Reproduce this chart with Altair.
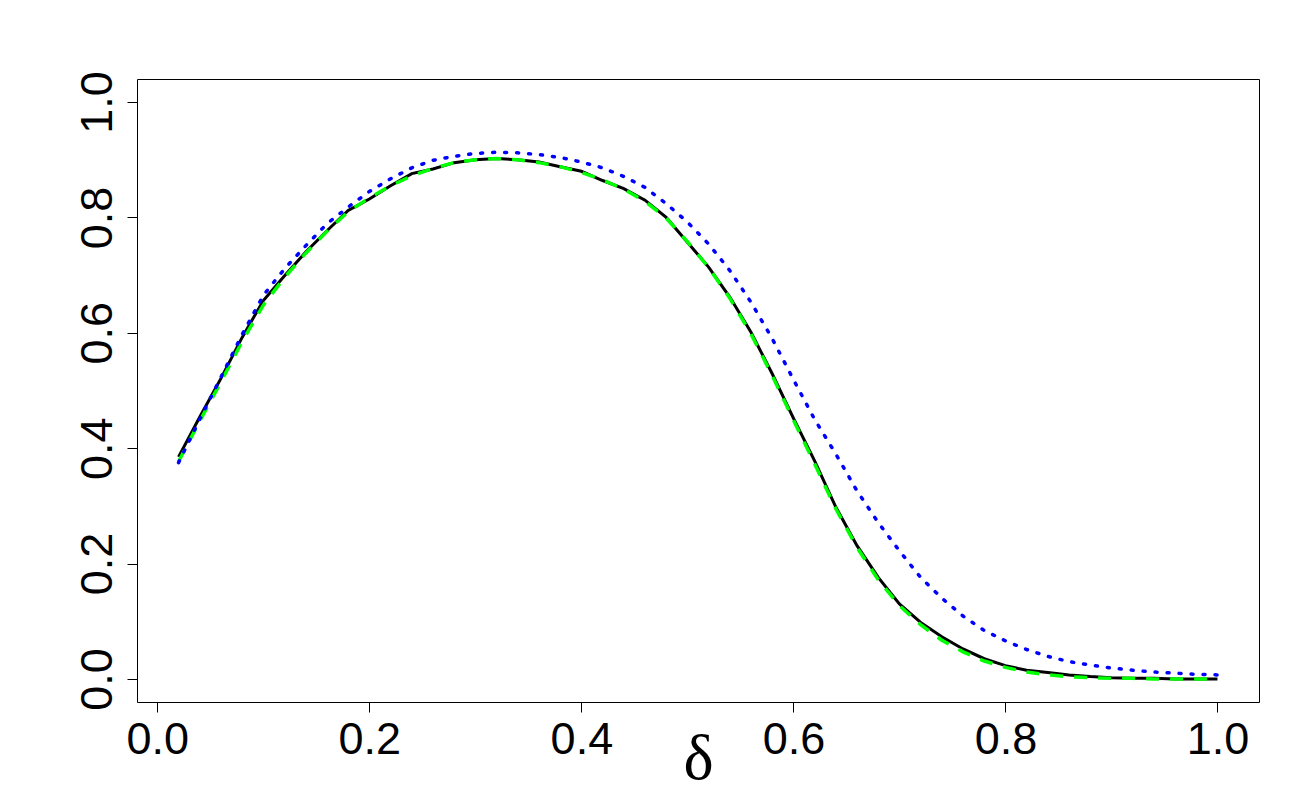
import altair as alt
import pandas as pd

delta = [0.02, 0.04, 0.06, 0.08, 0.10, 0.12, 0.14, 0.16, 0.18, 0.20,
         0.22, 0.24, 0.26, 0.28, 0.30, 0.32, 0.34, 0.36, 0.38, 0.40,
         0.42, 0.44, 0.46, 0.48, 0.50, 0.52, 0.54, 0.56, 0.58, 0.60,
         0.62, 0.64, 0.66, 0.68, 0.70, 0.72, 0.74, 0.76, 0.78, 0.80,
         0.82, 0.84, 0.86, 0.88, 0.90, 0.92, 0.94, 0.96, 0.98, 1.00]

black_vals = [0.385, 0.454, 0.521, 0.592, 0.656, 0.699, 0.740, 0.777, 0.812, 0.832,
              0.855, 0.876, 0.884, 0.895, 0.900, 0.902, 0.900, 0.896, 0.888, 0.880,
              0.864, 0.850, 0.830, 0.800, 0.757, 0.714, 0.662, 0.601, 0.529, 0.452,
              0.378, 0.298, 0.231, 0.176, 0.130, 0.098, 0.073, 0.052, 0.035, 0.023,
              0.015, 0.011, 0.007, 0.004, 0.002, 0.001, 0.001, 0.000, 0.000, 0.000]

green_vals = [0.377, 0.447, 0.515, 0.585, 0.648, 0.696, 0.738, 0.776, 0.810, 0.834,
              0.855, 0.872, 0.885, 0.895, 0.900, 0.902, 0.900, 0.895, 0.888, 0.878,
              0.865, 0.849, 0.828, 0.799, 0.758, 0.713, 0.660, 0.598, 0.526, 0.449,
              0.373, 0.295, 0.228, 0.172, 0.127, 0.094, 0.067, 0.047, 0.031, 0.020,
              0.012, 0.007, 0.004, 0.002, 0.001, 0.001, 0.000, 0.000, 0.000, 0.000]

blue_vals = [0.375, 0.450, 0.523, 0.597, 0.665, 0.711, 0.751, 0.789, 0.818, 0.845,
             0.867, 0.886, 0.899, 0.906, 0.911, 0.913, 0.912, 0.909, 0.904, 0.896,
             0.886, 0.871, 0.852, 0.824, 0.792, 0.754, 0.708, 0.653, 0.590, 0.519,
             0.450, 0.390, 0.326, 0.271, 0.222, 0.176, 0.140, 0.109, 0.084, 0.066,
             0.051, 0.039, 0.030, 0.024, 0.019, 0.015, 0.012, 0.010, 0.008, 0.007]

tick_vals = [0.0, 0.2, 0.4, 0.6, 0.8, 1.0]

df = pd.DataFrame({"delta": delta, "black": black_vals,
                   "green": green_vals, "blue": blue_vals})

x_axis = alt.Axis(values=tick_vals, format=".1f", grid=False, domain=False,
                  ticks=True, tickSize=10, tickColor="black", tickWidth=1,
                  labelFont="Liberation Sans", labelFontSize=45,
                  labelColor="black", labelPadding=5, labelFlush=False,
                  labelBaseline="top",
                  title="δ", titleFont="Liberation Serif", titleFontSize=64,
                  titleFontWeight="normal", titleColor="black",
                  titleBaseline="bottom", titleY=89)
y_axis = alt.Axis(values=tick_vals, format=".1f", grid=False, domain=False,
                  ticks=True, tickSize=10, tickColor="black", tickWidth=1,
                  labelFont="Liberation Sans", labelFontSize=45,
                  labelColor="black", labelAngle=270, labelAlign="center",
                  labelBaseline="alphabetic", labelPadding=16, labelFlush=False,
                  title=None)

xs = alt.Scale(domain=[-0.0192, 1.0392], nice=False, zero=False)
ys = alt.Scale(domain=[-0.04, 1.04], nice=False, zero=False)

base = alt.Chart(df)

black = base.mark_line(color="black", strokeWidth=3).encode(
    x=alt.X("delta:Q", scale=xs, axis=x_axis),
    y=alt.Y("black:Q", scale=ys, axis=y_axis))
green = base.mark_line(color="#00FF00", strokeWidth=3.5, strokeDash=[13, 11]).encode(
    x=alt.X("delta:Q", scale=xs, axis=x_axis),
    y=alt.Y("green:Q", scale=ys, axis=y_axis))
blue = base.mark_line(color="#0000FF", strokeWidth=3.5, strokeDash=[2, 10],
                      strokeCap="round").encode(
    x=alt.X("delta:Q", scale=xs, axis=x_axis),
    y=alt.Y("blue:Q", scale=ys, axis=y_axis))

chart = alt.layer(black, green, blue).properties(
    width=1122, height=623,
    autosize=alt.AutoSizeParams(type="none"),
    padding={"left": 129, "top": 71, "right": 30, "bottom": 90},
    background="white",
).configure_view(stroke="black", strokeWidth=1)

chart.save("out.html", embed_options={"renderer": "svg", "actions": False})
